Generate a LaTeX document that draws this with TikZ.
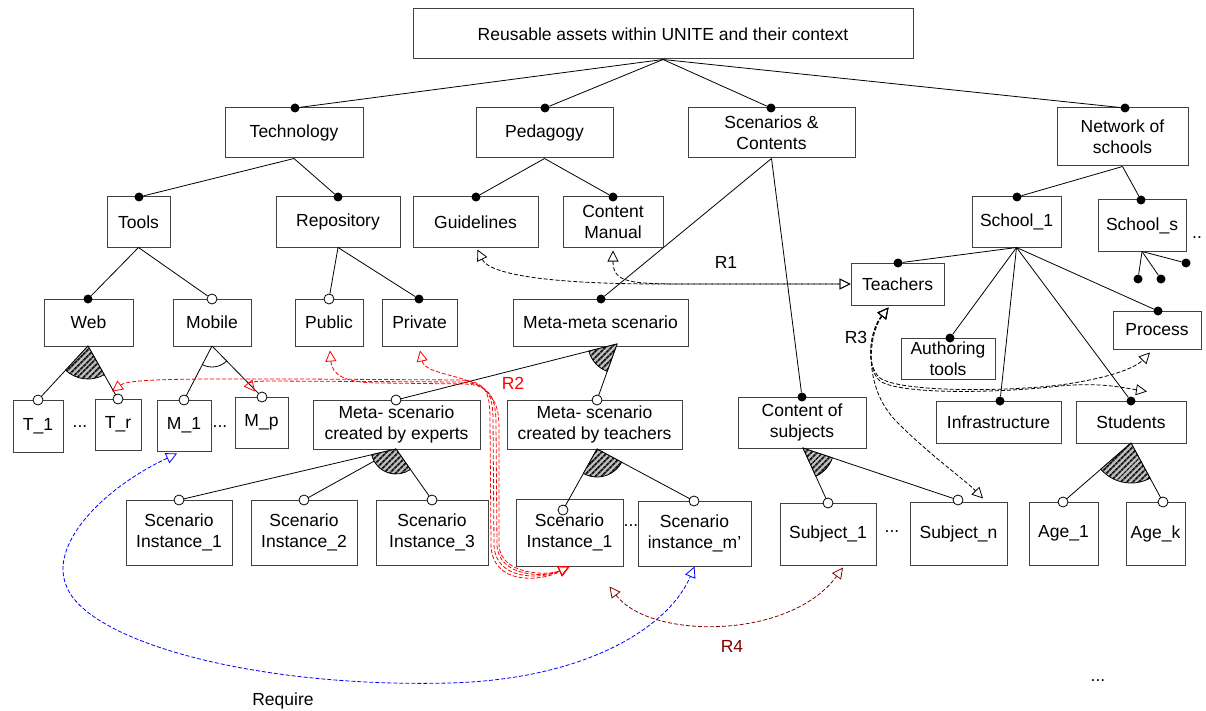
\documentclass[tikz,border=0pt]{standalone}
\usepackage{fontspec}
\setmainfont{Liberation Sans}
\usetikzlibrary{arrows.meta,calc,patterns.meta}
\definecolor{rfour}{RGB}{128,0,0}
\newcommand{\bx}[6]{\node[box, minimum width={(#4-#2)*1pt}, minimum height={(#5-#3)*1pt}] (#1) at ({(#2+#4)/2},{(#3+#5)/2}) {#6};}
\newcommand{\grp}[5][hatchsec]{%
  \path[#1] let \p1=($(#3)-(#2)$), \p2=($(#4)-(#2)$), \n1={atan2(\y1,\x1)}, \n2={atan2(\y2,\x2)} in
  (#2) -- ++(\n1:#5) arc[start angle=\n1, end angle=\n2, radius=#5] -- cycle;}
\newcommand{\grparc}[4]{%
  \draw[line width=0.8pt] let \p1=($(#2)-(#1)$), \p2=($(#3)-(#1)$), \n1={atan2(\y1,\x1)}, \n2={atan2(\y2,\x2)} in
  ($(#1)+(\n1:#4)$) arc[start angle=\n1, end angle=\n2, radius=#4];}
\begin{document}
\begin{tikzpicture}[x=1pt,y=-1pt,
  font=\fontsize{17.5}{21}\selectfont,
  box/.style={draw=black!75, line width=1pt, inner sep=0pt, align=center},
  fdot/.style={circle, fill=black, inner sep=0pt, minimum size=9pt},
  odot/.style={circle, draw=black, fill=white, line width=0.8pt, inner sep=0pt, minimum size=10pt},
  tree/.style={line width=0.8pt},
  hatchsec/.style={draw=black, line width=0.8pt, preaction={fill=black!25}, pattern={Lines[angle=45,distance=4pt,line width=2pt]}, pattern color=black!90},
  rel/.style={dash pattern=on 4pt off 2pt, line width=0.8pt},
  oaa/.style={{Triangle[open,length=11pt,width=11pt]}-{Triangle[open,length=11pt,width=11pt]}},
  lbl/.style={inner sep=1pt}
]
\useasboundingbox[fill=white] (0,0) rectangle (1206,711);

% ---------- boxes ----------
\bx{top}{413}{9}{913}{59}{Reusable assets within UNITE and their context}
\bx{tech}{225}{108}{363}{158}{Technology}
\bx{ped}{476}{108}{613}{158}{Pedagogy}
\bx{scen}{688}{108}{855}{158}{Scenarios \&\\Contents}
\bx{net}{1057}{108}{1188}{166}{Network of\\schools}
\bx{tools}{107}{197}{170}{247}{Tools}
\bx{repo}{276}{197}{400}{247}{Repository}
\bx{guide}{413}{197}{538}{247}{Guidelines}
\bx{cman}{563}{197}{663}{247}{Content\\Manual}
\bx{school1}{972}{197}{1061}{247}{School\_1}
\bx{schools}{1098}{200}{1186}{251}{School\_s}
\bx{teachers}{851}{263}{944}{305}{Teachers}
\bx{web}{44}{299}{133}{346}{Web}
\bx{mobile}{173}{299}{251}{346}{Mobile}
\bx{public}{295}{299}{363}{346}{Public}
\bx{private}{382}{299}{457}{346}{Private}
\bx{metameta}{513}{299}{688}{346}{Meta-meta scenario}
\bx{process}{1113}{311}{1201}{349}{Process}
\bx{auth}{901}{338}{995}{379}{Authoring\\tools}
\bx{infra}{936}{401}{1061}{443}{Infrastructure}
\bx{students}{1076}{401}{1186}{443}{Students}
\bx{t1}{13}{400}{63}{452}{T\_1}
\bx{tr}{95}{399}{141}{450}{T\_r}
\bx{m1}{157}{400}{211}{451}{M\_1}
\bx{mp}{235}{397}{288}{448}{M\_p}
\bx{experts}{313}{400}{480}{449}{Meta- scenario\\created by experts}
\bx{tms}{507}{400}{682}{449}{Meta- scenario\\created by teachers}
\bx{cos}{738}{397}{866}{448}{Content of\\subjects}
\bx{si1}{126}{500}{232}{565}{Scenario\\Instance\_1}
\bx{si2}{251}{500}{357}{565}{Scenario\\Instance\_2}
\bx{si3}{376}{500}{488}{565}{Scenario\\Instance\_3}
\bx{si1t}{516}{499}{623}{566}{Scenario\\Instance\_1}
\bx{sim}{638}{501}{751}{566}{Scenario\\instance\_m'}
\bx{sub1}{780}{503}{876}{565}{Subject\_1}
\bx{subn}{910}{502}{1007}{565}{Subject\_n}
\bx{age1}{1029}{502}{1098}{565}{Age\_1}
\bx{agek}{1126}{502}{1185}{565}{Age\_k}

% ---------- apex coordinates ----------
\coordinate (a-web) at (88,346);
\coordinate (a-mob) at (212,346);
\coordinate (a-mm) at (617,344);
\coordinate (a-exp) at (396,449);
\coordinate (a-tms) at (597,449);
\coordinate (a-cos) at (803,448);
\coordinate (a-stu) at (1131,443);

% ---------- dots ----------
\path
 (295,108) node[fdot] (d-tech) {}
 (545,108) node[fdot] (d-ped) {}
 (771,108) node[fdot] (d-scen) {}
 (1125,108) node[fdot] (d-net) {}
 (139,197) node[fdot] (d-tools) {}
 (338,197) node[fdot] (d-repo) {}
 (476,197) node[fdot] (d-guide) {}
 (613,197) node[fdot] (d-cman) {}
 (1017,197) node[fdot] (d-school1) {}
 (1141,200) node[fdot] (d-schools) {}
 (88,299) node[fdot] (d-web) {}
 (419,299) node[fdot] (d-private) {}
 (601,299) node[fdot] (d-mm) {}
 (898,263) node[fdot] (d-teachers) {}
 (950,338) node[fdot] (d-auth) {}
 (1000,401) node[fdot] (d-infra) {}
 (1131,401) node[fdot] (d-students) {}
 (1158,311) node[fdot] (d-process) {}
 (802,397) node[fdot] (d-cos) {}
 (1138,279) node[fdot] (d-s1) {}
 (1161,279) node[fdot] (d-s2) {}
 (1186,263) node[fdot] (d-s3) {};

% ---------- tree lines ----------
\draw[tree] (top.south) -- (d-tech);
\draw[tree] (top.south) -- (d-ped);
\draw[tree] (top.south) -- (d-scen);
\draw[tree] (top.south) -- (d-net);
\draw[tree] (tech.south) -- (d-tools);
\draw[tree] (tech.south) -- (d-repo);
\draw[tree] (ped.south) -- (d-guide);
\draw[tree] (ped.south) -- (d-cman);
\draw[tree] (scen.south) -- (d-mm);
\draw[tree] (scen.south) -- (d-cos);
\draw[tree] (net.south) -- (d-school1);
\draw[tree] (net.south) -- (d-schools);
\draw[tree] (tools.south) -- (d-web);
\draw[tree] (school1.south) -- (d-teachers);
\draw[tree] (school1.south) -- (d-auth);
\draw[tree] (school1.south) -- (d-infra);
\draw[tree] (school1.south) -- (d-students);
\draw[tree] (school1.south) -- (d-process);
\draw[tree] (schools.south) -- (d-s1);
\draw[tree] (schools.south) -- (d-s2);
\draw[tree] (schools.south) -- (d-s3);
\draw[tree] (repo.south) -- (d-private);

\path
 (212,299) node[odot] (o-mobile) {}
 (329,299) node[odot] (o-public) {};
\draw[tree] (tools.south) -- (o-mobile);
\draw[tree] (repo.south) -- (o-public);

% children of groups
\coordinate (c-t1) at (38,400);
\coordinate (c-tr) at (118,399);
\coordinate (c-m1) at (184,400);
\coordinate (c-mp) at (262,397);
\coordinate (c-exp) at (396,400);
\coordinate (c-tms) at (597,400);
\coordinate (c-si1) at (179,500);
\coordinate (c-si2) at (304,500);
\coordinate (c-si3) at (432,500);
\coordinate (c-si1t) at (563,510);
\coordinate (c-sim) at (694,501);
\coordinate (c-sub1) at (828,503);
\coordinate (c-subn) at (958,500);
\coordinate (c-age1) at (1063,502);
\coordinate (c-agek) at (1163,502);

\foreach \a/\c in {web/t1,web/tr,mob/m1,mob/mp,mm/exp,mm/tms,exp/si1,exp/si2,exp/si3,tms/si1t,tms/sim,cos/sub1,cos/subn,stu/age1,stu/agek}
  \draw[tree] (a-\a) -- (c-\c);

% group symbols
\grp{a-web}{c-t1}{c-tr}{33pt}
\grparc{a-mob}{c-m1}{c-mp}{21pt}
\grp{a-mm}{c-exp}{c-tms}{29pt}
\grp{a-exp}{c-si1}{c-si3}{25pt}
\grp{a-tms}{c-si1t}{c-sim}{28pt}
\grp{a-cos}{c-sub1}{c-subn}{31pt}
\grp{a-stu}{c-age1}{c-agek}{40pt}

\foreach \c in {t1,tr,m1,mp,exp,tms,si1,si2,si3,si1t,sim,sub1,subn,age1,agek}
  \node[odot] (o-\c) at (c-\c) {};

% ---------- R1 ----------
\draw[rel,oaa] ($(guide.south)+(2,2)$) .. controls (490,276) and (560,284) .. (660,284) -- (teachers.west);
\draw[rel,oaa] ($(cman.south)+(0,3)$) .. controls (613,283) and (630,284) .. (690,284) -- (teachers.west);
\node[lbl] (l-r1) at (726,262) {R1};

% ---------- R2 ----------
\begin{scope}[red]
\draw[rel,oaa] ($(tr.north)+(-6,-7)$) .. controls (130,378) and (200,379) .. (300,379) -- (460,380) .. controls (486,381) and (490,392) .. (490,420) -- (491,545) .. controls (492,585) and (540,582) .. (si1t.south);
\draw[rel,oaa] ($(mp.north)+(-6.5,-5)$) .. controls (248,383) and (252,381) .. (270,381) -- (460,382) .. controls (488,383) and (493,395) .. (493,420) -- (494,545) .. controls (495,580) and (540,580) .. (si1t.south);
\draw[rel,oaa] ($(public.south)+(1,4)$) .. controls (332,375) and (345,383) .. (380,383) -- (465,384) .. controls (490,385) and (496,397) .. (496,425) -- (497,545) .. controls (498,577) and (545,578) .. (si1t.south);
\draw[rel,oaa] ($(private.south)+(0.5,4)$) .. controls (425,375) and (470,375) .. (485,390) .. controls (497,402) and (499,410) .. (499,430) -- (499,545) .. controls (500,575) and (548,576) .. (si1t.south);
\end{scope}
\node[lbl, text=red] (l-r2) at (513,383) {R2};

% ---------- R3 ----------
\coordinate (r3t) at ($(teachers.south)+(-9,2)$);
\draw[rel,oaa] (r3t) .. controls (870,330) and (865,365) .. (880,378) .. controls (900,392) and (1000,392) .. (1060,385) .. controls (1110,378) and (1135,368) .. ($(process.south)+(-7,3)$);
\draw[rel,oaa] (r3t) .. controls (870,330) and (865,368) .. (880,381) .. controls (900,395) and (1000,393) .. (1060,386) .. controls (1100,382) and (1125,388) .. ($(students.north)+(16,-9)$);
\draw[rel,oaa] (r3t) .. controls (868,335) and (862,390) .. (900,425) .. controls (930,455) and (965,480) .. ($(subn.north)+(24.5,-3)$);
\node[lbl] (l-r3) at (856,337) {R3};

% ---------- R4 ----------
\coordinate (r4l) at ($(si1t.south)+(40,20)$);
\draw[rel,oaa,rfour] (r4l) .. controls (650,640) and (790,640) .. ($(sub1.south)+(15,2)$);
\node[lbl, text=rfour] (l-r4) at (732,646) {R4};

% ---------- Require ----------
\draw[rel,oaa,blue] ($(m1.south)+(-7,2)$) .. controls (100,490) and (50,545) .. (66,585) .. controls (85,640) and (250,688) .. (450,683) .. controls (590,679) and (670,625) .. (sim.south);
\node[lbl] (l-req) at (283,701) {Require};

% ---------- ellipses ----------
\node[lbl] (e1) at (80,427) {...};
\node[lbl] (e2) at (220,427) {...};
\node[lbl] (e3) at (631,526) {...};
\node[lbl] (e4) at (892,532) {...};
\node[lbl] (e5) at (1197,238) {..};
\node[lbl] (e6) at (1098,681) {...};
\end{tikzpicture}
\end{document}
